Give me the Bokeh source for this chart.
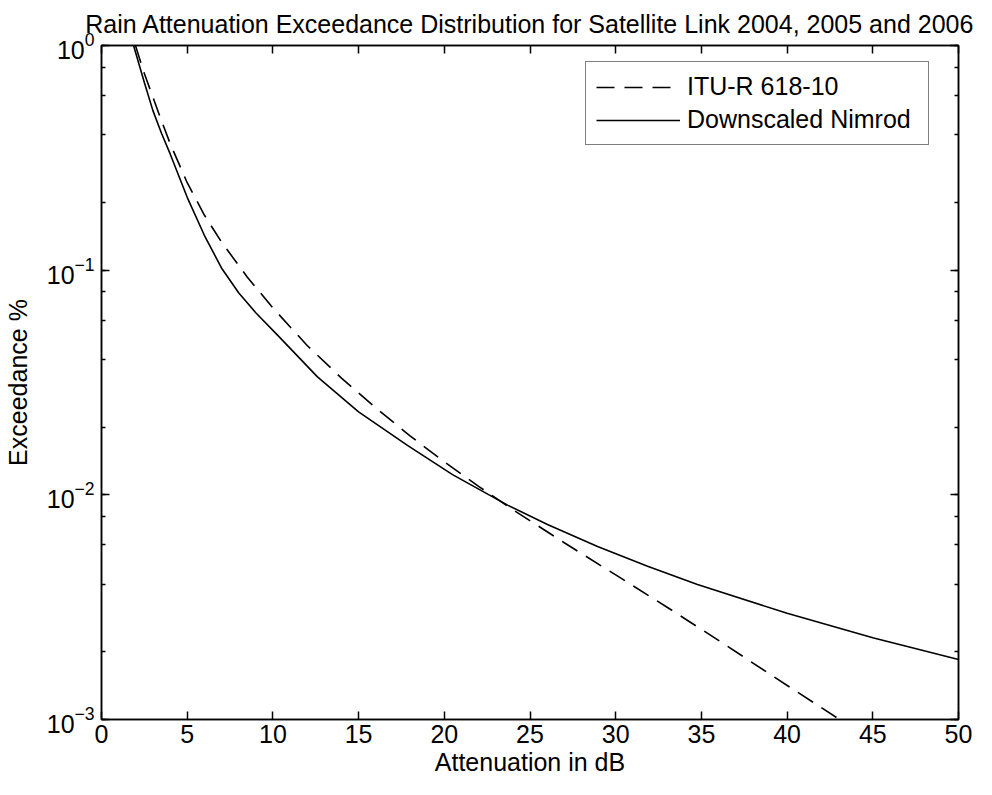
from bokeh.plotting import figure
from bokeh.models import (Range1d, FixedTicker, LinearAxis, LogAxis, LogTicker,
                          Legend, LegendItem)
from bokeh.embed import file_html
from bokeh.resources import INLINE

# ---- data ----
title_text = "Rain Attenuation Exceedance Distribution for Satellite Link 2004, 2005 and 2006"
x_label = "Attenuation in dB"
y_label = "Exceedance %"
x_ticks = [0, 5, 10, 15, 20, 25, 30, 35, 40, 45, 50]

itu_name = "ITU-R 618-10"
itu_atten = [1.98, 2.5, 3.0, 3.5, 4.0, 5.0, 6.0, 7.0, 8.5, 10.0, 12.0, 14.0, 16.0,
             18.0, 20.0, 22.0, 24.0, 27.0, 30.0, 33.0, 36.0, 39.0, 43.06]
itu_exceed = [1.0, 0.750, 0.589, 0.462, 0.367, 0.245, 0.176, 0.1334, 0.0933, 0.0679,
              0.0462, 0.0331, 0.0244, 0.0183, 0.01403, 0.01091, 0.00859, 0.00612,
              0.0044, 0.00316, 0.00225, 0.00159, 0.001]

nim_name = "Downscaled Nimrod"
nim_atten = [1.87, 2.5, 3.0, 3.5, 4.0, 5.0, 6.0, 7.0, 8.0, 9.0, 10.27, 12.6, 15.0,
             17.85, 20.48, 23.69, 26.02, 28.94, 31.86, 34.77, 40.0, 45.0, 50.0]
nim_exceed = [1.0, 0.684, 0.513, 0.407, 0.330, 0.211, 0.143, 0.1023, 0.0794, 0.0646,
              0.0514, 0.0335, 0.0234, 0.0166, 0.0123, 0.0090, 0.00738, 0.00589,
              0.00481, 0.00399, 0.00297, 0.00231, 0.00185]

FONT = "Liberation Sans"
FS = "25px"

p = figure(frame_width=857, frame_height=674,
           x_range=Range1d(0, 50), y_range=Range1d(1e-3, 1),
           y_axis_type="log", output_backend="svg", toolbar_location=None,
           min_border_left=96, min_border_right=23, min_border_top=45,
           min_border_bottom=40, background_fill_color="white",
           border_fill_color="white")

p.title.text = title_text
p.title.align = "center"
p.title.text_font = FONT
p.title.text_font_size = "25px"
p.title.text_font_style = "normal"
p.title.text_color = "black"
p.title.standoff = 15

p.grid.visible = False
p.outline_line_color = "black"
p.outline_line_width = 1.5

xa = p.xaxis[0]
xa.ticker = FixedTicker(ticks=x_ticks)
xa.axis_label = x_label
ya = p.yaxis[0]
ya.ticker = LogTicker()
ya.axis_label = y_label

for ax in (xa, ya):
    ax.axis_label_text_font = FONT
    ax.axis_label_text_font_size = FS
    ax.axis_label_text_font_style = "normal"
    ax.axis_label_text_color = "black"
    ax.major_label_text_font = FONT
    ax.major_label_text_font_size = FS
    ax.major_label_text_color = "black"
    ax.axis_line_color = "black"
    ax.axis_line_width = 1.5
    ax.major_tick_in = 8
    ax.major_tick_out = 0
    ax.minor_tick_in = 4
    ax.minor_tick_out = 0
    ax.major_tick_line_width = 1.5
    ax.minor_tick_line_width = 1.5
xa.minor_tick_line_color = None
xa.major_label_standoff = 5
xa.axis_label_standoff = 2
ya.major_label_standoff = 7
ya.axis_label_standoff = 12

top = LinearAxis(ticker=FixedTicker(ticks=x_ticks))
right = LogAxis(ticker=LogTicker())
for ax in (top, right):
    ax.major_label_text_font_size = "2px"
    ax.major_label_text_color = None
    ax.major_label_standoff = 0
    ax.axis_line_color = "black"
    ax.axis_line_width = 1.5
    ax.major_tick_in = 8
    ax.major_tick_out = 0
    ax.minor_tick_in = 4
    ax.minor_tick_out = 0
    ax.major_tick_line_width = 1.5
    ax.minor_tick_line_width = 1.5
top.minor_tick_line_color = None
p.add_layout(top, "above")
p.add_layout(right, "right")

r_itu = p.line(itu_atten, itu_exceed, line_color="black", line_width=1.6,
               line_dash="18 10")
r_nim = p.line(nim_atten, nim_exceed, line_color="black", line_width=1.6)

legend = Legend(items=[LegendItem(label=itu_name, renderers=[r_itu]),
                       LegendItem(label=nim_name, renderers=[r_nim])],
                location=(484, 574))
legend.label_text_font = FONT
legend.label_text_font_size = FS
legend.label_text_color = "black"
legend.border_line_color = "black"
legend.border_line_width = 1.5
legend.background_fill_alpha = 1.0
legend.padding = 10
legend.spacing = 4
legend.margin = 0
legend.glyph_width = 84
legend.glyph_height = 26
legend.label_height = 26
legend.label_width = 231
legend.label_standoff = 7
p.add_layout(legend, "center")

open("out.html", "w").write(file_html(p, INLINE))
